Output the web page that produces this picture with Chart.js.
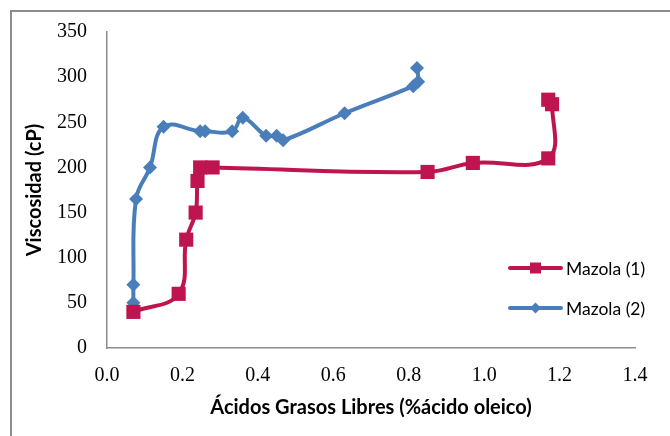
<!DOCTYPE html>
<html>
<head>
<meta charset="utf-8">
<script src="https://cdn.jsdelivr.net/npm/chart.js@4/dist/chart.umd.min.js"></script>
<style>
  html, body { margin: 0; padding: 0; background: #fff; }
  #wrap { width: 670px; height: 436px; }
</style>
</head>
<body>
<div id="wrap"><canvas id="chartVisc"></canvas></div>
<script>
// datos
var seriesNames = ['Mazola (1)', 'Mazola (2)'];

var mazola1X = [0.07, 0.19, 0.21, 0.235, 0.24, 0.247, 0.28, 0.85, 0.97, 1.17, 1.18, 1.17];
var mazola1Y = [40, 60, 120, 150, 185, 200, 200, 195, 205, 210, 270, 275];

var mazola2X = [0.07, 0.07, 0.077, 0.114, 0.15, 0.247, 0.26, 0.332, 0.36, 0.422, 0.45, 0.467, 0.63, 0.812, 0.825, 0.822];
var mazola2Y = [50, 70, 165, 200, 245, 240, 240, 240, 255, 235, 235, 230, 260, 290, 295, 310];

var xTicks = [0, 0.2, 0.4, 0.6, 0.8, 1.0, 1.2, 1.4];
var yTicks = [0, 50, 100, 150, 200, 250, 300, 350];

var rojo = '#BE1550';
var azul = '#4A7EBB';

function puntos(xs, ys) {
    return xs.map(function (x, i) { return { x: x, y: ys[i] }; });
}

// borde exterior (solo izquierda y arriba se ven en la imagen)
var bordePlugin = {
    id: 'borde',
    beforeDraw: function (chart) {
        var ctx = chart.ctx;
        ctx.save();
        ctx.strokeStyle = '#8c8c8c';
        ctx.lineWidth = 2;
        ctx.beginPath();
        ctx.moveTo(11, 440);
        ctx.lineTo(11, 11);
        ctx.lineTo(680, 11);
        ctx.stroke();
        ctx.restore();
    }
};

// leyenda dibujada a mano dentro del area
var leyendaPlugin = {
    id: 'leyenda',
    afterDraw: function (chart) {
        var ctx = chart.ctx;
        ctx.save();
        chart.data.datasets.forEach(function (ds, i) {
            var y = 268 + i * 40;
            ctx.strokeStyle = ds.borderColor;
            ctx.lineWidth = 4;
            ctx.lineCap = 'round';
            ctx.beginPath();
            ctx.moveTo(510, y);
            ctx.lineTo(561, y);
            ctx.stroke();
            ctx.fillStyle = ds.borderColor;
            if (i === 0) {
                ctx.fillRect(530, y - 5.5, 11, 11);
            } else {
                ctx.beginPath();
                ctx.moveTo(535.5, y - 5.5);
                ctx.lineTo(541, y);
                ctx.lineTo(535.5, y + 5.5);
                ctx.lineTo(530, y);
                ctx.closePath();
                ctx.fill();
            }
            ctx.fillStyle = '#000';
            ctx.font = '17.5px Lato';
            ctx.textBaseline = 'middle';
            ctx.fillText(ds.label, 566, y + 1);
        });
        ctx.restore();
    }
};

var chartVisc = new Chart(document.getElementById('chartVisc'), {
    type: 'scatter',
    data: {
        datasets: [
            {
                label: seriesNames[0],
                data: puntos(mazola1X, mazola1Y),
                showLine: true,
                borderColor: rojo,
                backgroundColor: rojo,
                borderWidth: 4,
                tension: 0.4,
                pointStyle: 'rect',
                pointRadius: 10,
                pointHoverRadius: 10,
                pointBorderWidth: 0
            },
            {
                label: seriesNames[1],
                data: puntos(mazola2X, mazola2Y),
                showLine: true,
                borderColor: azul,
                backgroundColor: azul,
                borderWidth: 4,
                tension: 0.4,
                pointStyle: 'rectRot',
                pointRadius: 7,
                pointHoverRadius: 7,
                pointBorderWidth: 0
            }
        ]
    },
    options: {
        responsive: true,
        maintainAspectRatio: false,
        animation: false,
        layout: {
            padding: { top: 32, right: 35, left: 0, bottom: 0 }
        },
        plugins: {
            legend: { display: false },
            tooltip: { enabled: false }
        },
        scales: {
            x: {
                type: 'linear',
                min: 0,
                max: 1.4,
                grid: { display: false },
                border: { display: true, color: '#8c8c8c', width: 1.5 },
                afterBuildTicks: function (scale) {
                    scale.ticks = xTicks.map(function (v) { return { value: v }; });
                },
                afterFit: function (scale) { scale.height = 88; },
                ticks: {
                    padding: 8,
                    color: '#000',
                    font: { family: 'Liberation Serif', size: 20 },
                    callback: function (v) { return Number(v).toFixed(1); }
                },
                title: {
                    display: true,
                    text: 'Ácidos Grasos Libres (%ácido oleico)',
                    color: '#000',
                    font: { family: 'Lato', weight: 'bold', size: 20 },
                    padding: { top: 4, bottom: 16 }
                }
            },
            y: {
                type: 'linear',
                min: 0,
                max: 350,
                grid: { display: false },
                border: { display: true, color: '#8c8c8c', width: 1.5 },
                afterBuildTicks: function (scale) {
                    scale.ticks = yTicks.map(function (v) { return { value: v }; });
                },
                afterFit: function (scale) { scale.width = 107; },
                ticks: {
                    padding: 12,
                    color: '#000',
                    font: { family: 'Liberation Serif', size: 20 }
                },
                title: {
                    display: true,
                    text: 'Viscosidad (cP)',
                    color: '#000',
                    font: { family: 'Lato', weight: 'bold', size: 20 },
                    padding: { top: 23, bottom: 0 }
                }
            }
        }
    },
    plugins: [bordePlugin, leyendaPlugin]
});
</script>
</body>
</html>
